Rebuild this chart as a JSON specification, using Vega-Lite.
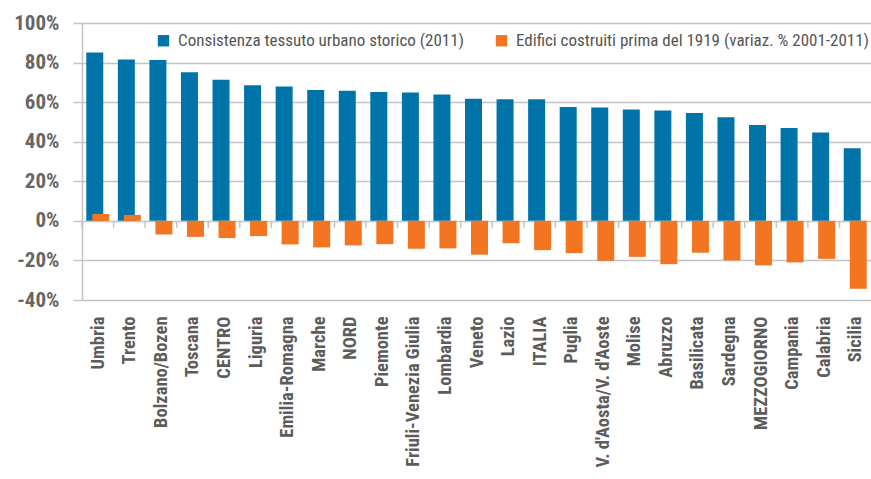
{
  "$schema": "https://vega.github.io/schema/vega-lite/v6.json",
  "width": 789,
  "height": 277,
  "autosize": {"type": "none"},
  "padding": {"left": 82, "top": 23, "right": 0, "bottom": 179},
  "background": "white",
  "config": {
    "view": {"stroke": null},
    "font": "Roboto Condensed"
  },
  "data": {
    "values": [
      {"regione": "Umbria", "serie": "Consistenza tessuto urbano storico (2011)", "valore": 85.1},
      {"regione": "Trento", "serie": "Consistenza tessuto urbano storico (2011)", "valore": 81.5},
      {"regione": "Bolzano/Bozen", "serie": "Consistenza tessuto urbano storico (2011)", "valore": 81.3},
      {"regione": "Toscana", "serie": "Consistenza tessuto urbano storico (2011)", "valore": 75.1},
      {"regione": "CENTRO", "serie": "Consistenza tessuto urbano storico (2011)", "valore": 71.3},
      {"regione": "Liguria", "serie": "Consistenza tessuto urbano storico (2011)", "valore": 68.6},
      {"regione": "Emilia-Romagna", "serie": "Consistenza tessuto urbano storico (2011)", "valore": 67.9},
      {"regione": "Marche", "serie": "Consistenza tessuto urbano storico (2011)", "valore": 66.1},
      {"regione": "NORD", "serie": "Consistenza tessuto urbano storico (2011)", "valore": 65.7},
      {"regione": "Piemonte", "serie": "Consistenza tessuto urbano storico (2011)", "valore": 65.1},
      {"regione": "Friuli-Venezia Giulia", "serie": "Consistenza tessuto urbano storico (2011)", "valore": 64.9},
      {"regione": "Lombardia", "serie": "Consistenza tessuto urbano storico (2011)", "valore": 63.9},
      {"regione": "Veneto", "serie": "Consistenza tessuto urbano storico (2011)", "valore": 61.7},
      {"regione": "Lazio", "serie": "Consistenza tessuto urbano storico (2011)", "valore": 61.4},
      {"regione": "ITALIA", "serie": "Consistenza tessuto urbano storico (2011)", "valore": 61.4},
      {"regione": "Puglia", "serie": "Consistenza tessuto urbano storico (2011)", "valore": 57.6},
      {"regione": "V. d'Aosta/V. d'Aoste", "serie": "Consistenza tessuto urbano storico (2011)", "valore": 57.3},
      {"regione": "Molise", "serie": "Consistenza tessuto urbano storico (2011)", "valore": 56.3},
      {"regione": "Abruzzo", "serie": "Consistenza tessuto urbano storico (2011)", "valore": 55.8},
      {"regione": "Basilicata", "serie": "Consistenza tessuto urbano storico (2011)", "valore": 54.5},
      {"regione": "Sardegna", "serie": "Consistenza tessuto urbano storico (2011)", "valore": 52.4},
      {"regione": "MEZZOGIORNO", "serie": "Consistenza tessuto urbano storico (2011)", "valore": 48.4},
      {"regione": "Campania", "serie": "Consistenza tessuto urbano storico (2011)", "valore": 46.9},
      {"regione": "Calabria", "serie": "Consistenza tessuto urbano storico (2011)", "valore": 44.7},
      {"regione": "Sicilia", "serie": "Consistenza tessuto urbano storico (2011)", "valore": 36.7},
      {"regione": "Umbria", "serie": "Edifici costruiti prima del 1919 (variaz. % 2001-2011)", "valore": 3.5},
      {"regione": "Trento", "serie": "Edifici costruiti prima del 1919 (variaz. % 2001-2011)", "valore": 3.0},
      {"regione": "Bolzano/Bozen", "serie": "Edifici costruiti prima del 1919 (variaz. % 2001-2011)", "valore": -6.9},
      {"regione": "Toscana", "serie": "Edifici costruiti prima del 1919 (variaz. % 2001-2011)", "valore": -8.1},
      {"regione": "CENTRO", "serie": "Edifici costruiti prima del 1919 (variaz. % 2001-2011)", "valore": -8.7},
      {"regione": "Liguria", "serie": "Edifici costruiti prima del 1919 (variaz. % 2001-2011)", "valore": -7.7},
      {"regione": "Emilia-Romagna", "serie": "Edifici costruiti prima del 1919 (variaz. % 2001-2011)", "valore": -11.9},
      {"regione": "Marche", "serie": "Edifici costruiti prima del 1919 (variaz. % 2001-2011)", "valore": -13.4},
      {"regione": "NORD", "serie": "Edifici costruiti prima del 1919 (variaz. % 2001-2011)", "valore": -12.4},
      {"regione": "Piemonte", "serie": "Edifici costruiti prima del 1919 (variaz. % 2001-2011)", "valore": -11.8},
      {"regione": "Friuli-Venezia Giulia", "serie": "Edifici costruiti prima del 1919 (variaz. % 2001-2011)", "valore": -14.1},
      {"regione": "Lombardia", "serie": "Edifici costruiti prima del 1919 (variaz. % 2001-2011)", "valore": -13.9},
      {"regione": "Veneto", "serie": "Edifici costruiti prima del 1919 (variaz. % 2001-2011)", "valore": -17.1},
      {"regione": "Lazio", "serie": "Edifici costruiti prima del 1919 (variaz. % 2001-2011)", "valore": -11.3},
      {"regione": "ITALIA", "serie": "Edifici costruiti prima del 1919 (variaz. % 2001-2011)", "valore": -14.8},
      {"regione": "Puglia", "serie": "Edifici costruiti prima del 1919 (variaz. % 2001-2011)", "valore": -16.3},
      {"regione": "V. d'Aosta/V. d'Aoste", "serie": "Edifici costruiti prima del 1919 (variaz. % 2001-2011)", "valore": -20.2},
      {"regione": "Molise", "serie": "Edifici costruiti prima del 1919 (variaz. % 2001-2011)", "valore": -18.2},
      {"regione": "Abruzzo", "serie": "Edifici costruiti prima del 1919 (variaz. % 2001-2011)", "valore": -21.9},
      {"regione": "Basilicata", "serie": "Edifici costruiti prima del 1919 (variaz. % 2001-2011)", "valore": -16.1},
      {"regione": "Sardegna", "serie": "Edifici costruiti prima del 1919 (variaz. % 2001-2011)", "valore": -20.0},
      {"regione": "MEZZOGIORNO", "serie": "Edifici costruiti prima del 1919 (variaz. % 2001-2011)", "valore": -22.5},
      {"regione": "Campania", "serie": "Edifici costruiti prima del 1919 (variaz. % 2001-2011)", "valore": -21.0},
      {"regione": "Calabria", "serie": "Edifici costruiti prima del 1919 (variaz. % 2001-2011)", "valore": -19.2},
      {"regione": "Sicilia", "serie": "Edifici costruiti prima del 1919 (variaz. % 2001-2011)", "valore": -34.3}
    ]
  },
  "encoding": {
    "x": {
      "field": "regione",
      "type": "nominal",
      "sort": null,
      "scale": {"paddingInner": 0, "paddingOuter": 0},
      "axis": {
        "title": null,
        "domain": false,
        "ticks": false,
        "labelAngle": -90,
        "labelAlign": "right",
        "labelBaseline": "middle",
        "labelPadding": 16,
        "labelFontSize": 18.5,
        "labelFontWeight": "bold",
        "labelColor": "#5c5c5c",
        "labelLimit": 300
      }
    },
    "y": {
      "field": "valore",
      "type": "quantitative",
      "scale": {"domain": [-40, 100], "nice": false},
      "axis": {
        "title": null,
        "values": [-40, -20, 0, 20, 40, 60, 80, 100],
        "labelExpr": "datum.value + '%'",
        "labelFontSize": 21,
        "labelFontWeight": "bold",
        "labelColor": "#666666",
        "labelPadding": 14,
        "tickSize": 9,
        "tickColor": "#c4c4c4",
        "tickWidth": 1.5,
        "domainColor": "#c4c4c4",
        "domainWidth": 1.5,
        "gridColor": "#c4c4c4",
        "gridWidth": 1.5
      }
    }
  },
  "layer": [
    {
      "transform": [{"filter": "datum.serie === 'Consistenza tessuto urbano storico (2011)'"}],
      "mark": {"type": "bar", "size": 17, "xOffset": -3},
      "encoding": {
        "color": {
          "field": "serie",
          "type": "nominal",
          "scale": {
            "domain": ["Consistenza tessuto urbano storico (2011)", "Edifici costruiti prima del 1919 (variaz. % 2001-2011)"],
            "range": ["#0074a9", "#f37421"]
          },
          "legend": {
            "title": null,
            "orient": "none",
            "direction": "horizontal",
            "legendX": 73,
            "legendY": 9,
            "symbolType": "square",
            "symbolSize": 130,
            "symbolStrokeWidth": 0,
            "labelFontSize": 17,
            "labelColor": "#555555",
            "labelLimit": 500,
            "labelOffset": 6,
            "columnPadding": 28
          }
        }
      }
    },
    {
      "transform": [{"filter": "datum.serie !== 'Consistenza tessuto urbano storico (2011)'"}],
      "mark": {"type": "bar", "size": 17, "xOffset": 3},
      "encoding": {
        "color": {"field": "serie", "type": "nominal"}
      }
    },
    {
      "transform": [{"filter": "datum.serie === 'Consistenza tessuto urbano storico (2011)'"}],
      "mark": {"type": "rule", "color": "#c4c4c4", "strokeWidth": 1.5},
      "encoding": {
        "x": {"field": "regione", "type": "nominal", "sort": null, "bandPosition": 0},
        "y": {"datum": 0, "type": "quantitative"},
        "y2": {"datum": -3.6}
      }
    }
  ]
}
